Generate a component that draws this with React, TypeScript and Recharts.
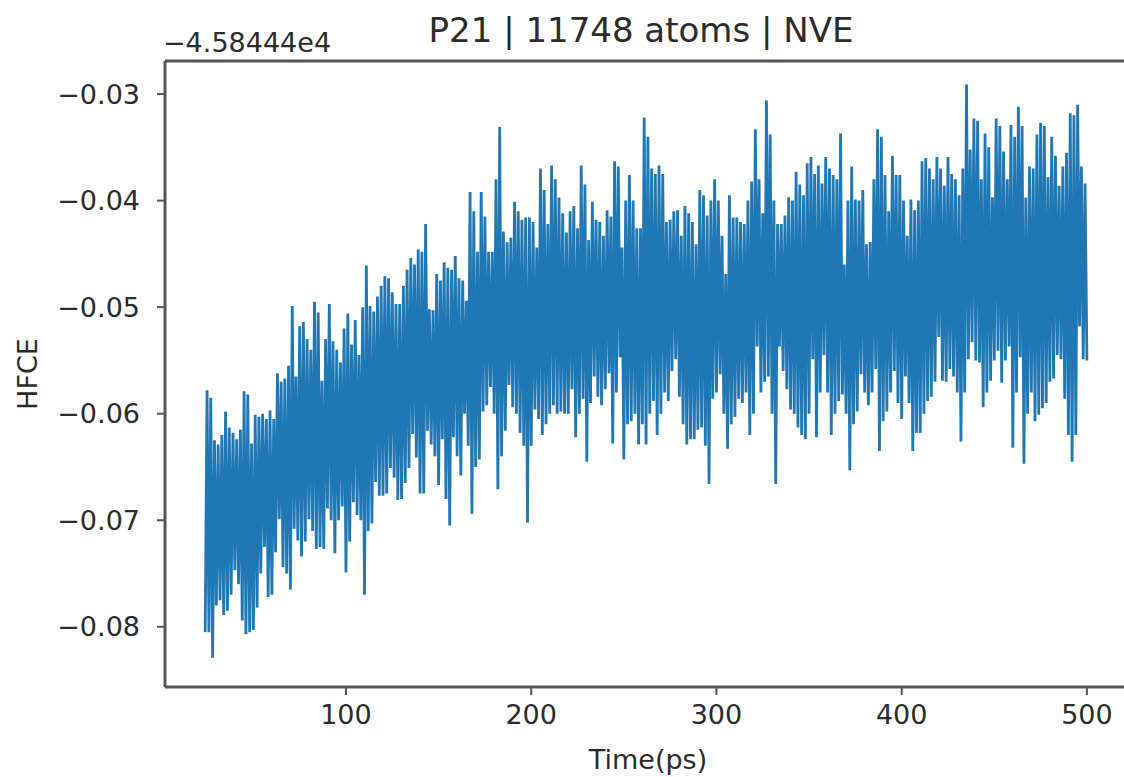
import { Line, LineChart, ReferenceLine, XAxis, YAxis } from "recharts";

// HFCE trace. Values are in 1e-3 units of the offset axis
// (i.e. -57.8 means -0.0578 on the tick scale, on top of -4.58444e4).
const START_PS = 24;
const hfceMilli = [
  -80.5, -57.8, -80.5, -58.5, -82.9, -62.5, // 24-29
  -78, -62.9, -77.5, -62, -78.9, -59.8, -78.5, -61.3, -77, -61.8,
  -74.7, -62.4, -76, -61.5, -79.4, -57.9, -80.7, -58.2, -80.5, -62.8,
  -80.3, -60.1, -78.2, -60.3, -75, -60, -72.5, -60.5, -77.2, -59.7,
  -77, -60.5, -73, -56.2, -69.9, -57, -74.4, -56.7, -75, -55.5,
  -76.5, -49.9, -70.8, -56.5, -71.9, -51.8, -73.4, -51.4, -72, -53,
  -69.9, -54, -71, -49.5, -72.7, -50.5, -72.5, -56.9, -72.7, -53,
  -68.9, -49.7, -70, -53.2, -73.1, -54, -70, -55.2, -68.7, -52,
  -74.9, -50.6, -72, -53.5, -68.3, -51.2, -69.5, -54.5, -70, -50, // 100
  -77, -46.1, -71, -49.9, -70.3, -50.4, -66.4, -49, -67.7, -48,
  -67.7, -47.1, -67.5, -47.3, -65.1, -48.6, -66, -49.7, -68.1, -49.7,
  -68, -48, -66.5, -46.5, -65.1, -45.4, -61.9, -46, -64.1, -44.6,
  -67.5, -44.8, -67.5, -42.2, -61.6, -50.2, -62.9, -50.3, -64, -46.9,
  -66.7, -47.5, -62.4, -45.8, -68, -46.3, -70.5, -46.5, -62.2, -45.2,
  -64, -47.3, -65.8, -47.5, -60, -49.4, -63, -39.2, -69.4, -41,
  -65, -44.8, -64.3, -39.2, -59.8, -41.5, -59.2, -44.8, -57.5, -44.8,
  -60, -38, -67.1, -33.1, -64, -42.9, -61.6, -43.9, -57.3, -43.5,
  -59.4, -40.1, -60, -41, -61.8, -41.8, -63, -41.6, -70.2, -41.6,
  -63, -42, -59.6, -44.4, -60.5, -37, -62, -39, -61, -42.2, // 200
  -60, -36.7, -59.2, -38, -60, -39.7, -59.8, -41.2, -60, -43,
  -60, -41, -57.7, -40.5, -62.2, -42.6, -60, -36.7, -58.6, -38.5,
  -64.5, -43.7, -59, -40.1, -56.5, -41.8, -58.4, -42, -59.2, -43.3,
  -57.7, -40.9, -56.2, -41.5, -62.8, -36.3, -58, -36.8, -54.7, -44.4,
  -64.3, -40, -61, -37.6, -60.7, -40, -60, -42.6, -62.9, -42.6,
  -61, -32.2, -62.9, -34, -60, -37, -58.8, -37.5, -62, -36.7,
  -60, -37.5, -58, -42, -58.8, -41.8, -56, -41, -54.9, -40.9,
  -58.4, -43.3, -61, -40.5, -62.9, -41.2, -62.4, -42, -62.4, -44.1,
  -61.5, -39, -61.3, -39.5, -63, -41.4, -66.6, -40, -58.6, -38,
  -58, -40, -56.3, -43.3, -60, -46.9, -63.3, -39.5, -61, -41.6, // 300
  -60.3, -41.6, -58.6, -42, -59, -42.2, -58, -40, -62, -38.2,
  -60, -33.3, -53.7, -38, -58, -41.2, -57, -30.6, -56.5, -33.8,
  -60, -40, -66.6, -42.2, -53.7, -42.2, -56, -41.4, -57.7, -39.7,
  -59.6, -40, -60, -37.3, -61.3, -38.5, -62, -39.5, -62.4, -36.5,
  -60, -35.9, -54.9, -37.5, -62.2, -36.7, -58, -38.4, -54.5, -35.9,
  -58, -37, -62, -37.6, -60, -38, -58.8, -33.7, -58.2, -46,
  -60, -40, -65.3, -36.8, -61, -39.9, -59.8, -40, -56.3, -39,
  -58, -44.1, -59.2, -43.9, -58, -38, -55.8, -33.3, -63.5, -34,
  -60.7, -37.6, -59.8, -41, -58, -35.8, -56, -37.6, -59, -37.6,
  -60.5, -40, -56.5, -43.3, -59, -39.9, -63.5, -40.9, -61.8, -40, // 400
  -61.8, -36.3, -60, -36, -58.8, -37, -58.4, -38, -57, -35.9,
  -52.8, -37, -56.9, -38.6, -57, -35.9, -55.8, -37.5, -56.5, -38,
  -58, -39.5, -62.6, -37, -58, -29.1, -54.9, -35.2, -53.3, -32.3,
  -55, -32.5, -55.2, -38, -59.4, -33.7, -58, -35, -56.9, -39.7,
  -55, -32.3, -54.1, -33, -57.1, -35.4, -55, -38, -53.7, -32.9,
  -63.2, -34, -58, -31.2, -54.7, -33, -64.7, -39.7, -60, -36.8,
  -58, -37, -60.7, -33.8, -60.1, -32.7, -59.5, -33, -59, -37.8,
  -57, -34, -56.7, -35.8, -54.5, -38.6, -54.9, -36.8, -58.6, -35.5,
  -62, -31.8, -64.5, -32, -62, -31, -51.8, -36.8, -54.9, -38.4,
  -55, // 500
];

const xTicks = [100, 200, 300, 400, 500];
const yTicks = [-0.08, -0.07, -0.06, -0.05, -0.04, -0.03];
const X_DOMAIN: [number, number] = [2.3, 523.8];
const Y_DOMAIN: [number, number] = [-0.08565, -0.0269];

const TITLE = "P21 | 11748 atoms | NVE";
const OFFSET_TEXT = "\u22124.58444e4";

const data = hfceMilli.map((v, i) => ({ time: START_PS + i, hfce: v / 1000 }));

const FONT = "'DejaVu Sans', Verdana, sans-serif";
const INK = "#2b2b2b";
const SPINE = "#555555";

const fmtY = (v: number) => v.toFixed(2).replace("-", "\u2212");

export default function App() {
  return (
    <div
      style={{
        position: "absolute",
        left: 0,
        top: 0,
        width: 1124,
        height: 777,
        overflow: "hidden",
        background: "#fff",
        fontFamily: FONT,
      }}
    >
      <LineChart width={1140} height={777} data={data} margin={{ top: 61, right: 9, bottom: 0, left: 0 }}>
        <XAxis
          dataKey="time"
          type="number"
          domain={X_DOMAIN}
          allowDataOverflow
          ticks={xTicks}
          height={90}
          tickSize={8}
          tickMargin={10}
          axisLine={{ stroke: SPINE, strokeWidth: 3 }}
          tickLine={{ stroke: SPINE, strokeWidth: 2 }}
          tick={{ fontSize: 27, fill: INK, fontFamily: FONT }}
          label={{ value: "Time(ps)", position: "insideBottom", offset: 8, fontSize: 27, fill: INK, fontFamily: FONT }}
        />
        <YAxis
          type="number"
          domain={Y_DOMAIN}
          allowDataOverflow
          ticks={yTicks}
          width={165}
          tickSize={8}
          tickMargin={17}
          tickFormatter={fmtY}
          axisLine={{ stroke: SPINE, strokeWidth: 3 }}
          tickLine={{ stroke: SPINE, strokeWidth: 2 }}
          tick={{ fontSize: 27, fill: INK, fontFamily: FONT }}
          label={{
            value: "HFCE",
            angle: -90,
            position: "insideLeft",
            offset: 27,
            fontSize: 27,
            fill: INK,
            fontFamily: FONT,
            style: { textAnchor: "middle" },
          }}
        />
        {/* top spine */}
        <ReferenceLine y={Y_DOMAIN[1]} stroke={SPINE} strokeWidth={3} ifOverflow="visible" />
        <Line
          type="linear"
          dataKey="hfce"
          stroke="#1f77b4"
          strokeWidth={2.8}
          strokeLinejoin="miter"
          dot={false}
          activeDot={false}
          isAnimationActive={false}
        />
      </LineChart>
      <svg
        width={1124}
        height={777}
        style={{ position: "absolute", left: 0, top: 0, pointerEvents: "none" }}
      >
        <text x={641} y={42} textAnchor="middle" fontSize={34} fill={INK} fontFamily={FONT}>
          {TITLE}
        </text>
        <text x={163} y={52} textAnchor="start" fontSize={27} fill={INK} fontFamily={FONT}>
          {OFFSET_TEXT}
        </text>
      </svg>
    </div>
  );
}
